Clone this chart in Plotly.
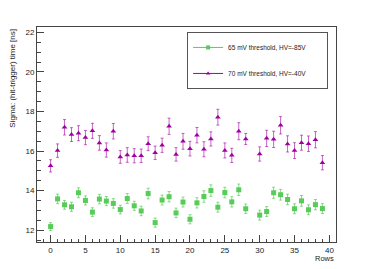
import plotly.graph_objects as go

rows_g = [0,1,2,3,4,5,6,7,8,9,10,11,12,13,14,15,16,17,18,19,20,21,22,23,24,25,26,27,28,30,31,32,33,34,35,36,37,38,39]
sigma_g = [12.18,13.58,13.28,13.18,13.89,13.50,12.91,13.57,13.47,13.35,13.04,13.60,13.23,12.97,13.85,12.38,13.52,13.69,12.87,13.42,
           12.55,13.38,13.70,14.00,13.16,13.90,13.43,14.04,13.08,12.76,12.94,13.89,13.79,13.55,13.08,13.48,13.03,13.29,13.09]
err_g = [0.20,0.24,0.22,0.23,0.25,0.23,0.22,0.24,0.23,0.24,0.22,0.25,0.23,0.24,0.27,0.23,0.25,0.26,0.24,0.25,
         0.23,0.26,0.29,0.29,0.25,0.27,0.26,0.29,0.24,0.25,0.25,0.28,0.27,0.27,0.25,0.27,0.25,0.26,0.25]

rows_m = [0,1,2,3,4,5,6,7,8,9,10,11,12,13,14,15,16,17,18,19,20,21,22,23,24,25,26,27,28,30,31,32,33,34,35,36,37,38,39]
sigma_m = [15.25,16.02,17.20,16.83,16.90,16.68,17.02,16.41,16.05,17.00,15.70,15.80,15.76,15.76,16.37,15.91,16.29,17.25,15.83,16.49,
           16.12,16.80,16.09,16.61,17.71,16.03,15.78,17.00,16.61,15.85,16.64,16.59,17.30,16.36,16.02,16.42,16.37,16.57,15.41]
err_m = [0.31,0.34,0.39,0.35,0.38,0.36,0.38,0.37,0.36,0.39,0.32,0.37,0.36,0.34,0.35,0.34,0.36,0.41,0.34,0.40,
         0.37,0.39,0.38,0.36,0.40,0.38,0.36,0.43,0.28,0.36,0.41,0.41,0.44,0.41,0.40,0.38,0.39,0.41,0.36]

name_g = "65 mV threshold, HV=-85V"
name_m = "70 mV threshold, HV=-40V"
x_title = "Rows"
y_title = "Sigma: (hit-trigger) time [ns]"

GREEN = "rgb(88,204,88)"
MAG = "rgb(160,0,160)"
FONT = "Liberation Sans, Arial, sans-serif"
PAD = "\u00a0" * 9

fig = go.Figure()
# data traces
fig.add_trace(go.Scatter(
    x=rows_g, y=sigma_g, mode="markers", showlegend=False,
    marker=dict(symbol="square", size=5, color=GREEN),
    error_y=dict(type="data", array=err_g, color="rgba(88,204,88,0.7)", thickness=1, width=1.5),
))
fig.add_trace(go.Scatter(
    x=rows_m, y=sigma_m, mode="markers", showlegend=False,
    marker=dict(symbol="triangle-up", size=5, color=MAG),
    error_y=dict(type="data", array=err_m, color="rgba(160,0,160,0.6)", thickness=1, width=1.5),
))
# legend entries (line + marker style, as in the reference legend)
fig.add_trace(go.Scatter(
    x=[None], y=[None], mode="lines+markers", name=name_g + PAD, legendgroup="g",
    marker=dict(symbol="square", size=4, color=GREEN), line=dict(color=GREEN, width=1),
))
fig.add_trace(go.Scatter(
    x=[None], y=[None], mode="lines+markers", name=name_m + PAD, legendgroup="m",
    marker=dict(symbol="triangle-up", size=4, color=MAG), line=dict(color=MAG, width=1),
))

axis_common = dict(
    showline=True, linecolor="#444", linewidth=1, mirror=True,
    ticks="inside", ticklen=7, tickwidth=1, tickcolor="#444",
    showgrid=False, zeroline=False,
    tickfont=dict(family=FONT, size=8, color="#222"),
)

fig.update_xaxes(range=[-1.95, 40.95], dtick=5, tick0=0,
                 minor=dict(ticks="inside", ticklen=3.5, dtick=1, tickcolor="#444", showgrid=False),
                 **axis_common)
fig.update_yaxes(range=[11.40, 22.27], dtick=2, tick0=0,
                 minor=dict(ticks="inside", ticklen=4, dtick=0.5, tickcolor="#444", showgrid=False),
                 **axis_common)

fig.add_annotation(text=y_title, xref="paper", yref="paper", x=-0.083, y=1.0,
                   xanchor="center", yanchor="top", textangle=-90, showarrow=False,
                   font=dict(family=FONT, size=8, color="#222"))
fig.add_annotation(text=x_title, xref="paper", yref="paper", x=1.0, y=-0.075,
                   xanchor="right", yanchor="middle", showarrow=False,
                   font=dict(family=FONT, size=7.5, color="#222"))

fig.update_layout(
    width=374, height=269,
    margin=dict(l=37, r=38, t=27, b=27),
    paper_bgcolor="white", plot_bgcolor="white",
    showlegend=True,
    legend=dict(x=0.502, y=0.977, xanchor="left", yanchor="top",
                bgcolor="white", bordercolor="#555", borderwidth=1,
                font=dict(family=FONT, size=6.5, color="#222"),
                tracegroupgap=7, itemwidth=30),
)

fig.write_html("out.html", config={"displayModeBar": False},
               post_script="document.body.style.margin='0';")
